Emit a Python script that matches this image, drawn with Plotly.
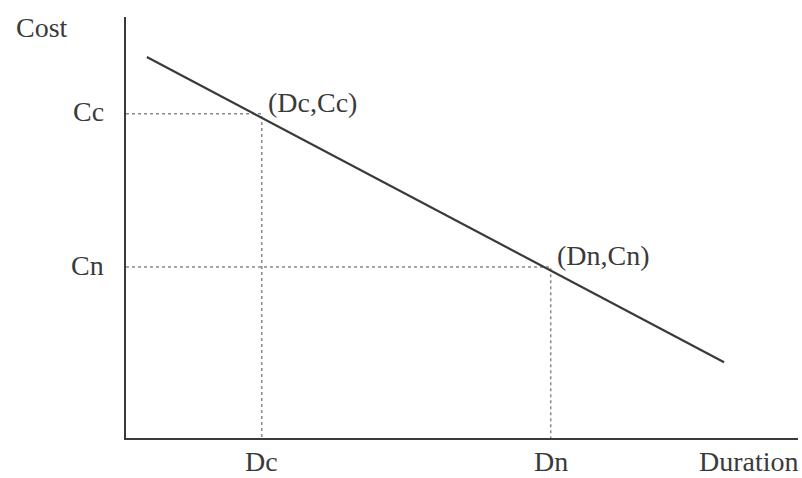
import plotly.graph_objects as go

# Time-cost trade-off: cost falls as duration grows
line_duration = [0.31, 8.9]
line_cost = [9.05, 1.8]

# Crash point (Dc, Cc) and normal point (Dn, Cn)
point_names = ["(Dc,Cc)", "(Dn,Cn)"]
point_duration = [2.02, 6.32]
point_cost = [7.7, 4.06]
duration_ticks = ["Dc", "Dn"]
cost_ticks = ["Cc", "Cn"]

X_MAX = 10
Y_MAX = 10

FONT = "Liberation Serif, Times New Roman, serif"
TEXT_COLOR = "#3a3a3a"
FONT_SIZE = 28

MARGIN_T, MARGIN_B = 17, 40
PLOT_H = 478 - MARGIN_T - MARGIN_B
# paper y of the bottom edge of the figure
FIG_BOTTOM = -MARGIN_B / PLOT_H

fig = go.Figure()

# Dotted guides from each point down to the duration axis and across to the cost axis
for d, c in zip(point_duration, point_cost):
    fig.add_trace(go.Scatter(
        x=[0, d, d], y=[c, c, 0], mode="lines",
        line=dict(color="#8a8a8a", width=1.5, dash="dot"),
        hoverinfo="skip", showlegend=False,
    ))

# Cost line
fig.add_trace(go.Scatter(
    x=line_duration, y=line_cost, mode="lines",
    line=dict(color="#3a3a3a", width=2.2),
    showlegend=False,
))

annotations = []
for name, d, c in zip(point_names, point_duration, point_cost):
    annotations.append(dict(
        x=d, y=c, xref="x", yref="y", text=name, showarrow=False,
        xanchor="left", yanchor="bottom", xshift=4, yshift=-6,
        font=dict(family=FONT, size=FONT_SIZE, color=TEXT_COLOR),
    ))
for label, c in zip(cost_ticks, point_cost):
    annotations.append(dict(
        x=0, y=c, xref="x", yref="y", text=label, showarrow=False,
        xanchor="right", yanchor="middle", xshift=-20, yshift=2,
        font=dict(family=FONT, size=FONT_SIZE, color=TEXT_COLOR),
    ))
for label, d in zip(duration_ticks, point_duration):
    annotations.append(dict(
        x=d, y=FIG_BOTTOM, xref="x", yref="paper", text=label, showarrow=False,
        xanchor="center", yanchor="bottom", borderpad=0,
        font=dict(family=FONT, size=FONT_SIZE, color=TEXT_COLOR),
    ))
annotations.append(dict(
    x=1, y=FIG_BOTTOM, xref="paper", yref="paper", text="Duration", showarrow=False,
    xanchor="right", yanchor="bottom", xshift=2, borderpad=0,
    font=dict(family=FONT, size=FONT_SIZE, color=TEXT_COLOR),
))
annotations.append(dict(
    x=0, y=1, xref="paper", yref="paper", text="Cost", showarrow=False,
    xanchor="right", yanchor="middle", xshift=-56, yshift=-10,
    font=dict(family=FONT, size=FONT_SIZE, color=TEXT_COLOR),
))

fig.update_layout(
    width=802, height=478,
    margin=dict(l=126, r=4, t=MARGIN_T, b=MARGIN_B),
    paper_bgcolor="white", plot_bgcolor="white",
    annotations=annotations,
    xaxis=dict(range=[0, X_MAX], showgrid=False, zeroline=False,
               showticklabels=False, ticks="",
               showline=True, linecolor="#3a3a3a", linewidth=2),
    yaxis=dict(range=[0, Y_MAX], showgrid=False, zeroline=False,
               showticklabels=False, ticks="",
               showline=True, linecolor="#3a3a3a", linewidth=2),
)

fig.write_html("out.html")
